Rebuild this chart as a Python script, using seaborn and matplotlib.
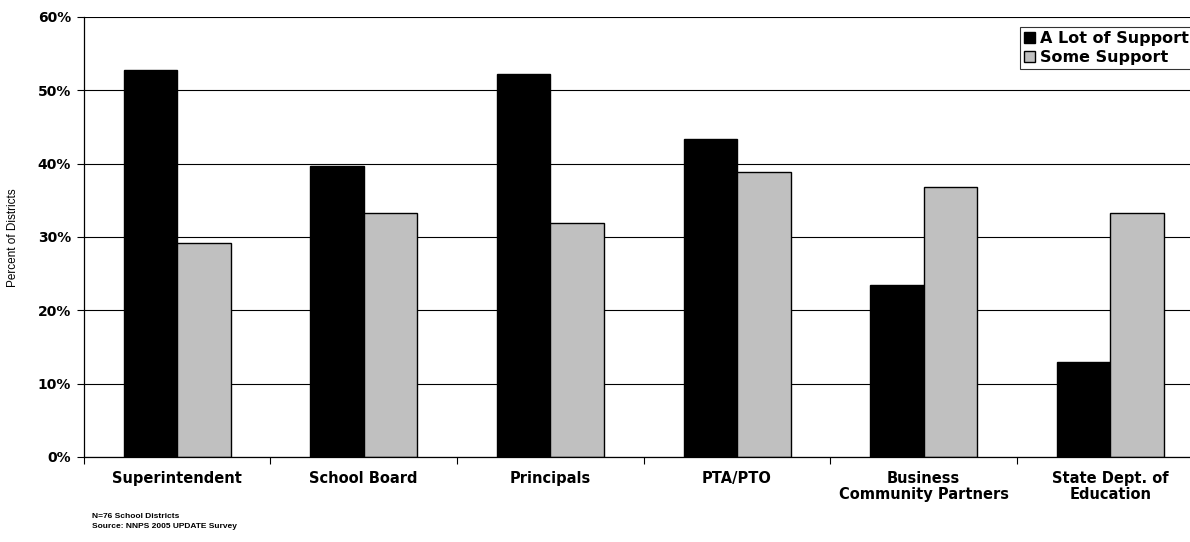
import matplotlib
matplotlib.use("Agg")
import matplotlib.pyplot as plt
import matplotlib.ticker as mticker
import numpy as np
import pandas as pd
import seaborn as sns

# Survey results: share of districts reporting each level of support
categories = ["Superintendent", "School Board", "Principals", "PTA/PTO",
              "Business\nCommunity Partners", "State Dept. of\nEducation"]
a_lot_of_support = [52.8, 39.7, 52.2, 43.3, 23.5, 13.0]
some_support = [29.2, 33.3, 31.9, 38.8, 36.8, 33.3]
series_names = ["A Lot of Support", "Some Support"]
y_ticks = [0, 10, 20, 30, 40, 50, 60]

df = pd.DataFrame({
    "category": categories * 2,
    "support": [series_names[0]] * len(categories) + [series_names[1]] * len(categories),
    "percent": a_lot_of_support + some_support,
})

sns.set_theme(style="white")
plt.rcParams["font.family"] = ["DejaVu Sans"]
plt.rcParams["text.color"] = "#000000"
plt.rcParams["xtick.color"] = "#000000"
plt.rcParams["ytick.color"] = "#000000"
plt.rcParams["xtick.labelcolor"] = "#000000"
plt.rcParams["ytick.labelcolor"] = "#000000"

fig = plt.figure(figsize=(11.9, 5.42), dpi=100)
ax = fig.add_axes([83.7 / 1190, 1 - 457 / 542, 1120 / 1190, 440 / 542])

sns.barplot(data=df, x="category", y="percent", hue="support",
            order=categories, hue_order=series_names,
            palette=["#000000", "#C0C0C0"], width=0.573,
            edgecolor="#000000", linewidth=1.0, ax=ax, legend=True)

ax.set_xlim(-0.5, len(categories) - 0.5)
ax.set_ylim(0, 60)
ax.set_yticks(y_ticks)
ax.yaxis.set_major_formatter(mticker.FuncFormatter(lambda v, _: f"{v:.0f}%"))
ax.yaxis.grid(True, color="#000000", linewidth=0.8)
ax.set_axisbelow(True)

# Category labels centred, tick marks at the category boundaries
ax.set_xticks(range(len(categories)))
ax.set_xticklabels(categories, fontsize=10.5, fontweight="bold", linespacing=1.1)
ax.xaxis.set_minor_locator(mticker.FixedLocator(np.arange(-0.5, len(categories), 1.0)))
ax.tick_params(axis="x", which="major", length=0, pad=10)
ax.tick_params(axis="x", which="minor", length=5, width=0.8, color="#000000",
               direction="out", bottom=True)
ax.tick_params(axis="y", which="major", length=5, width=0.8, color="#000000",
               direction="out", left=True, pad=4)
for lbl in ax.get_yticklabels():
    lbl.set_fontweight("bold")
    lbl.set_fontsize(10)

for side in ["top", "right"]:
    ax.spines[side].set_visible(False)
for side in ["left", "bottom"]:
    ax.spines[side].set_color("#000000")
    ax.spines[side].set_linewidth(0.9)

ax.set_xlabel("")
ax.set_ylabel("")
fig.text(13 / 1190, 1 - 238 / 542, "Percent of Districts", rotation=90,
         ha="center", va="center", fontsize=8.5, family="Liberation Sans")

leg = ax.legend(loc="upper left", bbox_to_anchor=(1020 / 1190, 1 - 27 / 542),
                bbox_transform=fig.transFigure, frameon=True, fancybox=False,
                edgecolor="#000000", handlelength=0.7, handleheight=0.7,
                handletextpad=0.3, borderpad=0.25, labelspacing=0.25,
                borderaxespad=0, prop={"weight": "bold", "size": 11.5})
leg.get_frame().set_linewidth(0.8)

fig.text(92 / 1190, 1 - 516 / 542, "N=76 School Districts", fontsize=6,
         fontweight="bold", va="center", ha="left", family="Liberation Sans")
fig.text(92 / 1190, 1 - 527 / 542, "Source: NNPS 2005 UPDATE Survey", fontsize=6,
         fontweight="bold", va="center", ha="left", family="Liberation Sans")

fig.savefig("out.png", dpi=100)
